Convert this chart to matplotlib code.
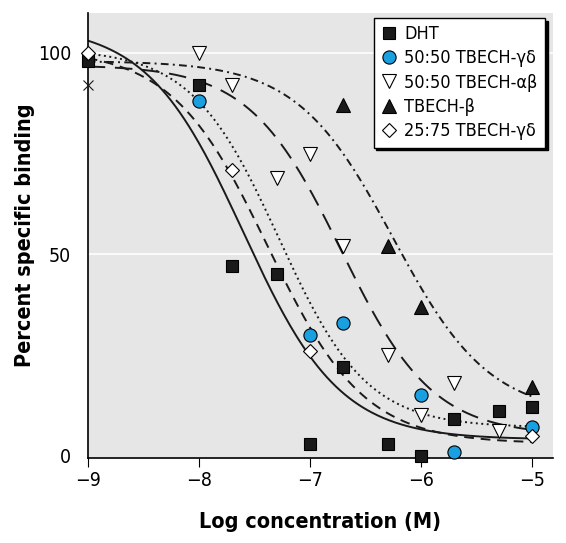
import matplotlib
matplotlib.use("Agg")
import matplotlib.pyplot as plt
from matplotlib import font_manager
import numpy as np

# pick a narrow face if one is installed
avail = [(f.name, f.stretch, f.fname) for f in font_manager.fontManager.ttflist]
narrow = [a for a in avail if "Narrow" in a[0] or "Condensed" in a[0] or "Condensed" in a[2]
          or a[1] in ("condensed", "semi-condensed", 500, 300)]
family = [narrow[0][0]] if narrow else []
family += ["DejaVu Sans"]
plt.rcParams.update({
    "font.family": family,
    "font.stretch": "condensed",
    "font.size": 14,
})

# ---- data
dht_x = [-9, -8, -7.7, -7.3, -7, -6.7, -6.3, -6, -5.7, -5.3, -5]
dht_y = [98, 92, 47, 45, 3, 22, 3, 0, 9, 11, 12]
gd50_x = [-8, -7, -6.7, -6, -5.7, -5]
gd50_y = [88, 30, 33, 15, 1, 7]
ab50_x = [-8, -7.7, -7.3, -7, -6.7, -6.3, -6, -5.7, -5.3]
ab50_y = [100, 92, 69, 75, 52, 25, 10, 18, 6]
beta_x = [-6.7, -6.3, -6, -5]
beta_y = [87, 52, 37, 17]
gd25_x = [-9, -7.7, -7, -5]
gd25_y = [100, 71, 26, 5]
cross_x = [-9]
cross_y = [92]

labels = ["DHT", "50:50 TBECH-\u03b3\u03b4", "50:50 TBECH-\u03b1\u03b2",
          "TBECH-\u03b2", "25:75 TBECH-\u03b3\u03b4"]

# fitted sigmoid parameters: top, bottom, log EC50, hill slope
fit_top = [107, 101, 97, 98, 101]
fit_bottom = [4, 7, 5, 10, 3]
fit_logec50 = [-7.6, -7.28, -6.72, -6.25, -7.38]
fit_hill = [1.0, 1.1, 1.05, 1.0, 1.0]

dash_styles = ["-", (0, (1.0, 1.8)), (0, (9, 5)), (0, (4, 2.2, 1, 2.2)), (0, (5, 3.5))]


def sigmoid(x, top, bottom, logec, hill):
    return bottom + (top - bottom) / (1 + 10 ** ((x - logec) * hill))


fig = plt.figure(figsize=(5.66, 5.43), dpi=100)
ax = fig.add_axes([0.155, 0.157, 0.8215, 0.819])
ax.set_facecolor("#e6e6e6")

xs = np.linspace(-9, -5, 300)
for i in range(len(labels)):
    ax.plot(xs, sigmoid(xs, fit_top[i], fit_bottom[i], fit_logec50[i], fit_hill[i]),
            color="#1a1a1a", linestyle=dash_styles[i], linewidth=1.4, zorder=2)

ax.axhline(50, color="white", linewidth=1.2, zorder=1)
ax.axhline(100, color="white", linewidth=1.2, zorder=1)

mk = dict(linestyle="none", markeredgecolor="black", markeredgewidth=0.8, zorder=4, clip_on=False)
ax.plot(dht_x, dht_y, marker="s", markersize=8.5, color="#1a1a1a", label=labels[0], **mk)
ax.plot(gd50_x, gd50_y, marker="o", markersize=9.5, color="#1a9fe0", label=labels[1], **mk)
ax.plot(ab50_x, ab50_y, marker="v", markersize=10.5, color="white", label=labels[2], **mk)
ax.plot(beta_x, beta_y, marker="^", markersize=10.5, color="#1a1a1a", label=labels[3], **mk)
ax.plot(gd25_x, gd25_y, marker="D", markersize=7.5, color="white", label=labels[4], **mk)
ax.plot(cross_x, cross_y, marker="x", markersize=7, color="#1a1a1a", markeredgewidth=0.8,
        linestyle="none", zorder=4, clip_on=False)

ax.set_xlim(-9, -4.815)
ax.set_ylim(-0.52, 109.9)
ax.set_xticks([-9, -8, -7, -6, -5])
ax.set_yticks([0, 50, 100])
ax.tick_params(axis="x", direction="out", length=6.5, width=0.8, pad=3, labelsize=14)
ax.tick_params(axis="y", length=0, pad=12, labelsize=14)
for s in ["top", "right"]:
    ax.spines[s].set_visible(False)
for s in ["left", "bottom"]:
    ax.spines[s].set_linewidth(1.2)

ax.set_xlabel("Log concentration (M)", fontsize=15.5, fontweight="bold", labelpad=16)
ax.set_ylabel("Percent specific binding", fontsize=15.5, fontweight="bold")
ax.yaxis.set_label_coords(-0.113, 0.5)

leg = ax.legend(loc="upper right", bbox_to_anchor=(0.983, 0.989), borderaxespad=0,
                fontsize=13, frameon=True, fancybox=False, handlelength=0.9,
                handletextpad=0.4, labelspacing=0.35, borderpad=0.4,
                shadow={"color": "black", "alpha": 1})
leg.get_frame().set_edgecolor("black")
leg.get_frame().set_linewidth(1.0)
leg.get_frame().set_facecolor("white")

fig.savefig("out.png", dpi=100)
